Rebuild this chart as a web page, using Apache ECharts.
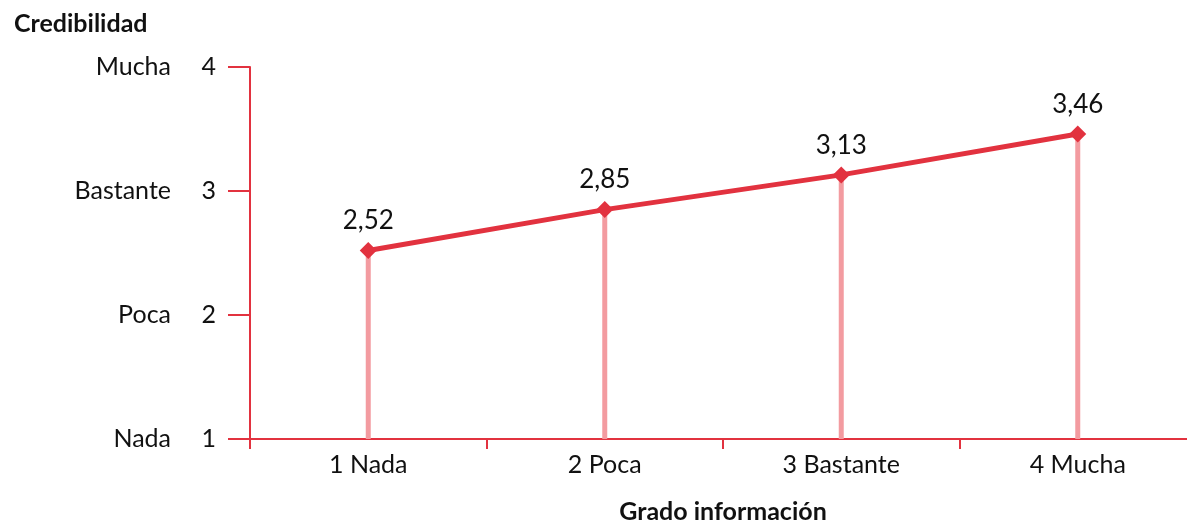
<!DOCTYPE html>
<html>
<head>
<meta charset="utf-8">
<script src="https://cdn.jsdelivr.net/npm/echarts@6/dist/echarts.min.js"></script>
<style>
  html, body { margin: 0; padding: 0; background: #ffffff; }
  #chart { width: 1187px; height: 521px; }
</style>
</head>
<body>
<div id="chart"></div>
<script>
// Grado de información vs. credibilidad media
const categories = ['1 Nada', '2 Poca', '3 Bastante', '4 Mucha'];
const credibility = [2.52, 2.85, 3.13, 3.46];
const yTickValues = [1, 2, 3, 4];
const yTickWords = ['Nada', 'Poca', 'Bastante', 'Mucha'];

const RED = '#e2323f';
const PINK = '#f39ba0';
const FONT = 'Lato';

const chart = echarts.init(document.getElementById('chart'), null, { renderer: 'canvas' });

chart.setOption({
  animation: false,
  backgroundColor: '#ffffff',
  textStyle: { fontFamily: FONT },
  title: {
    text: 'Credibilidad',
    left: 9,
    top: 6,
    textStyle: { fontFamily: FONT, fontWeight: 'bold', fontSize: 25, color: '#111' }
  },
  grid: { left: 250, right: -9, top: 67, bottom: 82, containLabel: false, outerBoundsMode: 'none' },
  xAxis: {
    type: 'category',
    data: categories,
    boundaryGap: true,
    name: 'Grado información',
    nameLocation: 'middle',
    nameGap: 60,
    nameTextStyle: { fontFamily: FONT, fontWeight: 'bold', fontSize: 25, color: '#111' },
    axisLine: { lineStyle: { color: RED, width: 2 } },
    axisTick: { show: true, length: 10, lineStyle: { color: RED, width: 2 } },
    axisLabel: { fontFamily: FONT, fontSize: 25, color: '#111', margin: 13 },
    splitLine: { show: false }
  },
  yAxis: {
    type: 'value',
    min: 1,
    max: 4,
    interval: 1,
    axisLine: { show: true, lineStyle: { color: RED, width: 2 } },
    axisTick: { show: true, length: 22, lineStyle: { color: RED, width: 2 } },
    splitLine: { show: false },
    axisLabel: {
      margin: 34,
      formatter: function (v) {
        const i = yTickValues.indexOf(v);
        return '{w|' + yTickWords[i] + '}{n|' + v + '}';
      },
      rich: {
        w: { fontFamily: FONT, fontSize: 25, color: '#111' },
        n: { fontFamily: FONT, fontSize: 25, color: '#111', width: 45, align: 'right' }
      }
    }
  },
  series: [
    {
      // líneas verticales hasta el eje
      type: 'bar',
      data: credibility,
      barWidth: 5,
      itemStyle: { color: PINK },
      silent: true,
      z: 1
    },
    {
      type: 'line',
      data: credibility,
      symbol: 'diamond',
      symbolSize: 17,
      lineStyle: { color: RED, width: 5 },
      itemStyle: { color: RED },
      label: {
        show: true,
        position: 'top',
        distance: 8,
        fontFamily: FONT,
        fontSize: 26,
        color: '#111',
        formatter: function (p) { return p.value.toFixed(2).replace('.', ','); }
      },
      z: 3
    }
  ]
});
</script>
</body>
</html>
